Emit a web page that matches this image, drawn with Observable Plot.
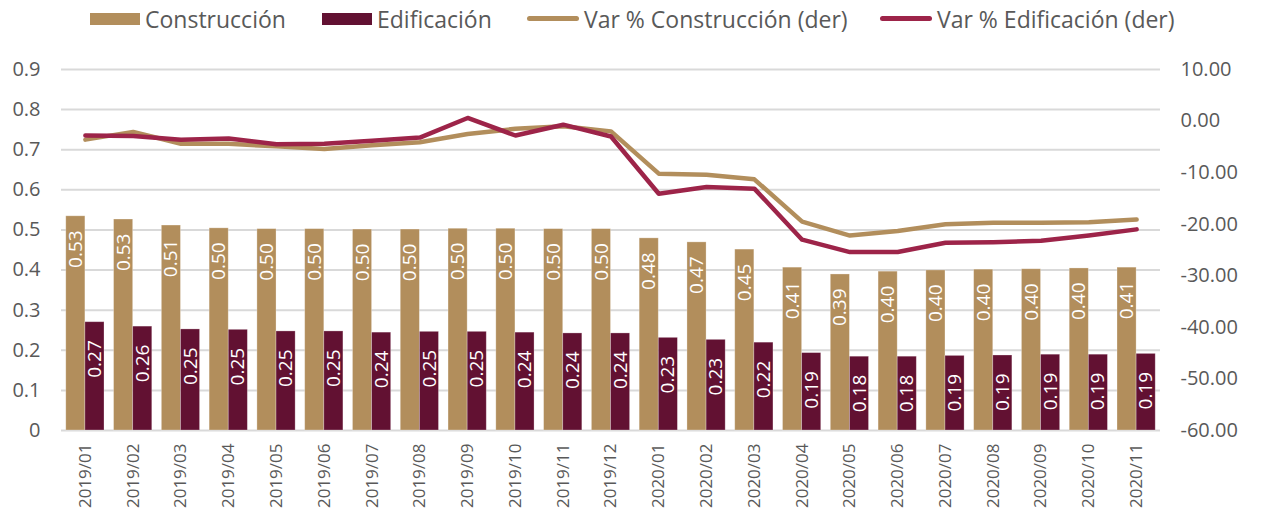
<!DOCTYPE html>
<html><head><meta charset="utf-8">
<script src="https://cdn.jsdelivr.net/npm/d3@7"></script>
<script src="https://cdn.jsdelivr.net/npm/@observablehq/plot@0.6"></script>
<style>
body{margin:0;background:#fff;font-family:"Open Sans",sans-serif;}
#legend{position:relative;height:40px;font-size:23px;color:#595959;white-space:nowrap;}
.item{position:absolute;top:0;height:37px;display:flex;align-items:center;}
.sw{width:50px;height:12px;margin-right:5px;}
.ln{width:52px;height:5px;border-radius:3px;margin-right:5px;}
</style></head><body>
<div id="legend"></div><div id="chart"></div>
<script>
const months = ["2019/01","2019/02","2019/03","2019/04","2019/05","2019/06","2019/07","2019/08","2019/09","2019/10","2019/11","2019/12","2020/01","2020/02","2020/03","2020/04","2020/05","2020/06","2020/07","2020/08","2020/09","2020/10","2020/11"];
const construccion = [0.534,0.526,0.511,0.504,0.502,0.502,0.501,0.501,0.503,0.503,0.502,0.502,0.479,0.469,0.451,0.406,0.389,0.396,0.399,0.401,0.402,0.404,0.406];
const edificacion = [0.270,0.259,0.252,0.251,0.247,0.247,0.244,0.246,0.246,0.244,0.242,0.242,0.231,0.226,0.219,0.193,0.184,0.184,0.186,0.187,0.189,0.189,0.191];
const varConstruccion = [-3.6,-2.1,-4.4,-4.4,-4.9,-5.4,-4.7,-4.1,-2.5,-1.5,-1.0,-2.0,-10.2,-10.4,-11.3,-19.5,-22.2,-21.3,-20.0,-19.7,-19.7,-19.6,-19.1];
const varEdificacion = [-2.8,-2.9,-3.6,-3.4,-4.5,-4.4,-3.8,-3.2,0.6,-2.8,-0.7,-3.0,-14.1,-12.8,-13.1,-23.0,-25.4,-25.4,-23.6,-23.5,-23.2,-22.2,-21.0];
const leftTicks = [0,0.1,0.2,0.3,0.4,0.5,0.6,0.7,0.8,0.9];
const rightTicks = [10,0,-10,-20,-30,-40,-50,-60];
const seriesNames = ["Construcción","Edificación","Var % Construcción (der)","Var % Edificación (der)"];
const seriesColors = ["#B28E5C","#621132","#B28E5C","#9D2449"];
const legendLeft = [90, 322, 527, 880];

const leftDomain = [0, 0.9];
const rightDomain = [-60, 10];
const toLeft = v => (v - rightDomain[0]) / (rightDomain[1] - rightDomain[0]) * (leftDomain[1] - leftDomain[0]) + leftDomain[0];
const fromLeft = v => (v - leftDomain[0]) / (leftDomain[1] - leftDomain[0]) * (rightDomain[1] - rightDomain[0]) + rightDomain[0];

const data = months.map((m, i) => ({month: m, c: construccion[i], e: edificacion[i], vc: varConstruccion[i], ve: varEdificacion[i]}));

// legend
const lg = document.getElementById("legend");
seriesNames.forEach((n, i) => {
  const it = document.createElement("div"); it.className = "item"; it.style.left = legendLeft[i] + "px";
  const s = document.createElement("div"); s.className = i < 2 ? "sw" : "ln"; s.style.background = seriesColors[i];
  const t = document.createElement("span"); t.textContent = n;
  it.appendChild(s); it.appendChild(t); lg.appendChild(it);
});

const W = 1262, H = 472, mL = 61, mR = 102, mT = 29, mB = 82;
const step = (W - mL - mR) / months.length;
const half = step * 0.8 / 2;

const chart = Plot.plot({
  width: W, height: H,
  marginLeft: mL, marginRight: mR, marginTop: mT, marginBottom: mB,
  style: {fontFamily: "'Open Sans', sans-serif", color: "#595959", background: "#fff"},
  x: {type: "band", domain: months, paddingInner: 0.2, paddingOuter: 0.1, round: false, label: null},
  y: {domain: leftDomain, label: null},
  marks: [
    Plot.gridY(leftTicks, {stroke: "#d9d9d9", strokeOpacity: 1, strokeWidth: 2}),
    Plot.barY(data, {x: "month", y: "c", fill: seriesColors[0], insetRight: half, stroke: "#fff", strokeOpacity: 0.35, strokeWidth: 0.8}),
    Plot.barY(data, {x: "month", y: "e", fill: seriesColors[1], insetLeft: half, stroke: "#fff", strokeOpacity: 0.35, strokeWidth: 0.8}),
    Plot.text(data, {x: "month", y: "c", text: d => d.c.toFixed(2), rotate: -90, textAnchor: "end", dx: -half / 2, dy: 14, fill: "#fff", fontSize: 19}),
    Plot.text(data, {x: "month", y: "e", text: d => d.e.toFixed(2), rotate: -90, textAnchor: "end", dx: half / 2, dy: 18, fill: "#fff", fontSize: 19}),
    Plot.line(data, {x: "month", y: d => toLeft(d.vc), stroke: seriesColors[2], strokeWidth: 4.5, strokeLinejoin: "round", strokeLinecap: "round"}),
    Plot.line(data, {x: "month", y: d => toLeft(d.ve), stroke: seriesColors[3], strokeWidth: 4.5, strokeLinejoin: "round", strokeLinecap: "round"}),
    Plot.axisY(leftTicks, {anchor: "left", tickSize: 0, tickPadding: 21, fontSize: 20, label: null, tickFormat: d => d === 0 ? "0" : d.toFixed(1)}),
    Plot.axisY(rightTicks.map(toLeft), {anchor: "right", tickSize: 0, tickPadding: 20, fontSize: 20, label: null, tickFormat: d => (Math.round(fromLeft(d) * 100) / 100 + 0).toFixed(2)}),
    Plot.axisX({tickRotate: -90, tickSize: 0, tickPadding: 13, fontSize: 17, label: null})
  ]
});
document.getElementById("chart").appendChild(chart);
</script>
</body></html>
